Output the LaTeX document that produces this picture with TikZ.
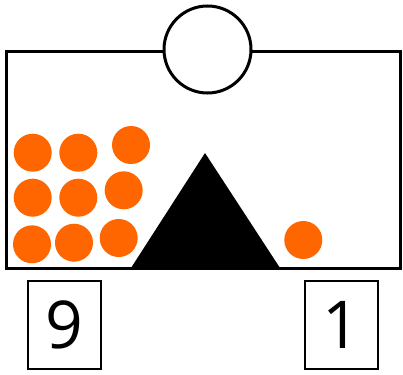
\documentclass[tikz,border=0pt]{standalone}
\usepackage{fontspec}
\setmainfont{Open Sans}
\definecolor{ballc}{HTML}{FF6600}
\begin{document}
\begin{tikzpicture}[x=1pt,y=-1pt,
  ball/.style={circle,fill=ballc,inner sep=0pt,minimum size=38pt},
  numbox/.style={draw,line width=1.8pt,minimum width=73pt,minimum height=88pt,inner sep=0pt,font=\fontsize{66}{66}\selectfont},
  frame/.style={line width=3pt}]
\useasboundingbox (0,0) rectangle (403,374);
\coordinate (tl) at (6.5,51.5);
\coordinate (tr) at (400.5,51.5);
\coordinate (bl) at (6.5,268);
\coordinate (br) at (400.5,268);
\coordinate (mid) at (207.5,51.5);
\draw[frame,line join=miter] (mid) -- (tl) -- (bl) -- (br) -- (tr) -- cycle;
\node[circle,draw,fill=white,line width=3pt,minimum size=87pt,inner sep=0pt] (bulb) at (207.5,49.5) {};
\fill (130,269.5) -- (205,153) -- (281,269.5) -- cycle;
\node[ball] (b1) at (32.7,152.7) {};
\node[ball] (b2) at (78.3,152.7) {};
\node[ball] (b3) at (131,145) {};
\node[ball] (b4) at (32.7,197.7) {};
\node[ball] (b5) at (78.3,197.7) {};
\node[ball] (b6) at (123.7,190.3) {};
\node[ball] (b7) at (32,244.3) {};
\node[ball] (b8) at (74,242.7) {};
\node[ball] (b9) at (118.7,238) {};
\node[ball] (b10) at (303.3,240) {};
\node[numbox] (n9) at (64.5,324.7) {9};
\node[numbox] (n1) at (341.5,324.7) {1};
\end{tikzpicture}
\end{document}
